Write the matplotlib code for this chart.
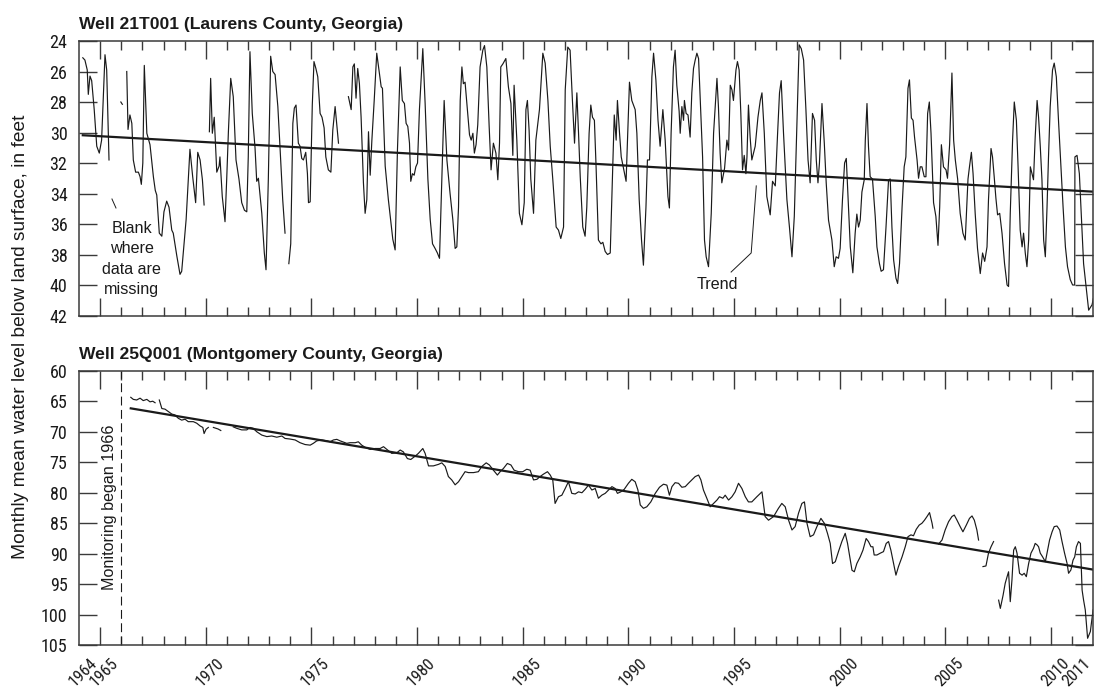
import numpy as np
import matplotlib
matplotlib.use("Agg")
import matplotlib.pyplot as plt
from matplotlib import font_manager

# Monthly mean water level below land surface (feet), one list per unbroken run of record.
laurens_segments = [
    [(1963.18, 25.1), (1963.28, 25.25), (1963.39, 25.9), (1963.44, 27.5), (1963.52, 26.3),
     (1963.60, 26.6), (1963.72, 28.5), (1963.84, 30.9), (1963.96, 31.35), (1964.07, 30.5),
     (1964.23, 24.9), (1964.31, 25.9), (1964.42, 31.8)],
    [(1964.98, 28.0), (1965.05, 28.15)],
    [(1965.26, 26.0), (1965.32, 29.8), (1965.41, 28.85), (1965.50, 29.4), (1965.57, 31.8),
     (1965.68, 32.6), (1965.81, 32.6), (1965.89, 32.9), (1965.95, 33.4), (1966.02, 32.0),
     (1966.09, 25.6), (1966.21, 30.05), (1966.36, 30.8), (1966.52, 32.9), (1966.61, 33.8),
     (1966.68, 34.1), (1966.80, 36.6), (1966.92, 36.8), (1967.02, 35.2), (1967.15, 34.5),
     (1967.26, 34.9), (1967.39, 36.4), (1967.46, 36.6), (1967.63, 38.1), (1967.78, 39.3),
     (1967.86, 39.1), (1968.07, 35.7), (1968.25, 31.1), (1968.38, 32.9), (1968.52, 34.6),
     (1968.62, 31.3), (1968.73, 31.8), (1968.84, 33.1), (1968.92, 34.75)],
    [(1969.17, 29.95), (1969.23, 26.45), (1969.31, 30.05), (1969.40, 29.0), (1969.52, 32.6),
     (1969.63, 32.2), (1969.67, 31.6), (1969.78, 34.2), (1969.91, 35.85), (1969.99, 33.05),
     (1970.07, 29.95), (1970.18, 26.45), (1970.30, 27.65), (1970.43, 31.8), (1970.57, 33.05),
     (1970.70, 34.6), (1970.83, 35.1), (1970.94, 35.2), (1971.01, 31.6), (1971.09, 24.7),
     (1971.20, 28.75), (1971.33, 31.0), (1971.41, 33.2), (1971.49, 33.0), (1971.65, 35.3),
     (1971.77, 37.9), (1971.85, 39.0), (1971.96, 33.05), (1972.07, 25.0), (1972.17, 26.0),
     (1972.28, 26.2), (1972.41, 28.3), (1972.51, 30.9), (1972.64, 34.4), (1972.75, 36.6)],
    [(1972.93, 38.6), (1973.02, 37.3), (1973.12, 29.4), (1973.19, 28.4), (1973.27, 28.2),
     (1973.38, 30.7), (1973.46, 30.9), (1973.54, 31.7), (1973.62, 31.8), (1973.73, 31.3),
     (1973.81, 32.7), (1973.86, 34.6), (1973.94, 34.55), (1974.04, 28.2), (1974.12, 25.35),
     (1974.21, 25.8), (1974.30, 26.35), (1974.41, 28.75), (1974.50, 29.0), (1974.60, 29.7),
     (1974.68, 31.6), (1974.80, 32.45), (1974.92, 32.6), (1975.01, 29.85), (1975.12, 28.3),
     (1975.28, 30.7)],
    [(1975.75, 27.65), (1975.88, 28.5), (1975.96, 25.7), (1976.03, 25.5), (1976.11, 27.75),
     (1976.19, 25.8), (1976.27, 26.8), (1976.35, 29.0), (1976.46, 33.3), (1976.54, 35.3),
     (1976.62, 34.4), (1976.70, 29.95), (1976.78, 32.8), (1976.86, 30.5), (1976.97, 27.9),
     (1977.09, 24.8), (1977.30, 27.0), (1977.36, 27.1), (1977.49, 32.2), (1977.64, 34.4),
     (1977.85, 37.0), (1977.96, 37.7), (1978.07, 31.15), (1978.20, 25.7), (1978.30, 27.9),
     (1978.40, 28.1), (1978.48, 29.4), (1978.56, 29.6), (1978.64, 30.7), (1978.70, 33.2),
     (1978.78, 32.7), (1978.86, 32.8), (1978.94, 32.25), (1979.02, 32.0), (1979.11, 28.5),
     (1979.27, 24.5), (1979.38, 28.1), (1979.51, 33.05), (1979.62, 35.7), (1979.73, 37.3),
     (1979.85, 37.6), (1979.96, 37.9), (1980.06, 38.25), (1980.17, 33.05), (1980.28, 27.9),
     (1980.41, 31.8), (1980.56, 34.0), (1980.69, 35.7), (1980.80, 37.6), (1980.88, 37.5),
     (1980.96, 34.9), (1981.04, 27.9), (1981.12, 25.7), (1981.19, 26.8), (1981.27, 26.7),
     (1981.38, 28.5), (1981.48, 30.15), (1981.56, 30.5), (1981.64, 30.05), (1981.71, 31.35),
     (1981.79, 30.8), (1981.87, 29.5), (1981.98, 25.7), (1982.11, 24.6), (1982.19, 24.3),
     (1982.30, 25.7), (1982.41, 29.6), (1982.50, 32.45), (1982.61, 30.7), (1982.73, 31.35),
     (1982.82, 33.1), (1982.90, 30.7), (1982.96, 25.7), (1983.06, 25.5), (1983.20, 25.15),
     (1983.32, 27.0), (1983.44, 28.1), (1983.53, 31.5), (1983.59, 26.9), (1983.72, 30.5),
     (1983.84, 35.3), (1983.96, 36.05), (1984.07, 34.6), (1984.15, 28.5), (1984.22, 27.9),
     (1984.30, 29.85), (1984.38, 33.05), (1984.51, 35.3), (1984.62, 30.5), (1984.79, 28.5),
     (1984.95, 24.8), (1985.06, 25.45), (1985.19, 27.9), (1985.30, 30.9), (1985.42, 33.05),
     (1985.58, 36.2), (1985.69, 36.4), (1985.80, 36.95), (1985.93, 36.2), (1986.01, 27.2),
     (1986.13, 24.4), (1986.24, 24.6), (1986.35, 27.9), (1986.45, 30.7), (1986.56, 27.4),
     (1986.64, 30.05), (1986.72, 32.9), (1986.84, 36.2), (1986.95, 36.8), (1987.03, 34.9),
     (1987.14, 30.05), (1987.22, 28.2), (1987.30, 29.0), (1987.39, 29.2), (1987.47, 32.25),
     (1987.58, 37.05), (1987.70, 37.3), (1987.79, 37.2), (1987.90, 37.8), (1988.01, 38.0),
     (1988.14, 37.9), (1988.25, 32.7), (1988.33, 28.85), (1988.42, 30.5), (1988.48, 27.9),
     (1988.58, 30.05), (1988.66, 31.6), (1988.82, 32.7), (1988.89, 33.2), (1988.98, 29.6),
     (1989.05, 26.7), (1989.16, 27.9), (1989.32, 28.5), (1989.40, 30.05), (1989.51, 34.4),
     (1989.62, 37.05), (1989.71, 38.7), (1989.83, 34.9), (1989.90, 31.8), (1990.00, 31.8),
     (1990.11, 26.35), (1990.19, 24.8), (1990.30, 26.55), (1990.40, 29.2), (1990.50, 30.9),
     (1990.63, 28.5), (1990.74, 30.5), (1990.87, 34.2), (1990.94, 34.95), (1991.02, 30.05),
     (1991.13, 25.7), (1991.21, 24.6), (1991.29, 26.9), (1991.40, 28.6), (1991.45, 30.05),
     (1991.53, 28.3), (1991.61, 29.2), (1991.65, 27.9), (1991.73, 28.75), (1991.82, 28.85),
     (1991.92, 30.3), (1992.00, 27.4), (1992.08, 25.8), (1992.16, 25.25), (1992.24, 24.8),
     (1992.32, 25.15), (1992.40, 27.9), (1992.51, 31.6), (1992.60, 37.05), (1992.68, 38.15),
     (1992.79, 38.8), (1992.92, 35.3), (1993.03, 30.05), (1993.19, 26.45), (1993.26, 28.3),
     (1993.34, 31.35), (1993.42, 33.3), (1993.55, 32.35), (1993.66, 30.5), (1993.74, 31.15),
     (1993.82, 26.9), (1993.90, 27.2), (1993.97, 27.9), (1994.09, 25.9), (1994.16, 25.35),
     (1994.24, 25.9), (1994.32, 28.75), (1994.40, 32.45), (1994.48, 31.5), (1994.56, 32.7),
     (1994.61, 31.6), (1994.68, 28.2), (1994.76, 30.3), (1994.84, 31.8), (1995.00, 30.9),
     (1995.13, 29.0), (1995.24, 27.9), (1995.32, 27.4), (1995.43, 30.05), (1995.55, 34.2),
     (1995.71, 35.4), (1995.82, 33.2), (1995.95, 33.5), (1996.06, 30.05), (1996.15, 27.4),
     (1996.23, 26.6), (1996.34, 30.05), (1996.50, 34.4), (1996.62, 36.2), (1996.74, 38.15),
     (1996.85, 35.5), (1996.97, 29.6), (1997.08, 24.25), (1997.18, 24.5), (1997.29, 25.25),
     (1997.40, 28.5), (1997.50, 31.8), (1997.60, 33.3), (1997.71, 28.75), (1997.81, 29.2),
     (1997.89, 31.8), (1997.97, 33.3), (1998.04, 32.0), (1998.16, 28.1), (1998.27, 30.7),
     (1998.36, 33.3), (1998.47, 35.75), (1998.55, 36.4), (1998.63, 37.05), (1998.74, 38.8),
     (1998.83, 38.15), (1998.94, 38.25), (1999.02, 37.6), (1999.13, 34.4), (1999.23, 32.0),
     (1999.31, 31.7), (1999.39, 34.2), (1999.50, 37.5), (1999.62, 39.2), (1999.73, 36.6),
     (1999.81, 35.35), (1999.89, 36.2), (1999.97, 35.75), (2000.05, 33.9), (2000.16, 33.1),
     (2000.21, 30.5), (2000.29, 28.1), (2000.36, 30.9), (2000.44, 32.9), (2000.55, 33.05),
     (2000.68, 35.5), (2000.76, 37.5), (2000.88, 38.6), (2000.96, 39.1), (2001.07, 39.0),
     (2001.19, 36.2), (2001.31, 33.1), (2001.39, 33.05), (2001.47, 36.2), (2001.55, 38.35),
     (2001.66, 39.55), (2001.74, 39.9), (2001.83, 38.6), (2001.95, 34.9), (2002.05, 32.25),
     (2002.13, 31.6), (2002.23, 27.1), (2002.30, 26.55), (2002.39, 29.05), (2002.47, 29.2),
     (2002.54, 30.3), (2002.66, 31.8), (2002.73, 33.0), (2002.81, 32.25), (2002.89, 32.25),
     (2003.00, 32.9), (2003.08, 32.9), (2003.16, 28.75), (2003.24, 28.0), (2003.32, 30.05),
     (2003.44, 34.6), (2003.55, 35.5), (2003.65, 37.4), (2003.73, 34.9), (2003.81, 30.8),
     (2003.91, 32.25), (2004.03, 32.45), (2004.10, 33.0), (2004.20, 30.8), (2004.31, 26.1),
     (2004.39, 30.5), (2004.47, 31.8), (2004.58, 33.05), (2004.70, 35.3), (2004.83, 36.6),
     (2004.94, 37.05), (2005.07, 33.05), (2005.14, 32.25), (2005.23, 31.3), (2005.31, 32.7),
     (2005.41, 35.3), (2005.52, 37.6), (2005.65, 39.25), (2005.76, 37.9), (2005.86, 38.45),
     (2005.97, 37.5), (2006.04, 34.4), (2006.16, 31.05), (2006.23, 31.6), (2006.31, 32.9),
     (2006.39, 34.3), (2006.47, 35.4), (2006.57, 35.3), (2006.68, 36.6), (2006.80, 38.6),
     (2006.92, 40.0), (2006.99, 40.1), (2007.07, 35.3), (2007.18, 30.5), (2007.26, 28.0),
     (2007.36, 29.2), (2007.44, 32.25), (2007.54, 36.4), (2007.63, 37.5), (2007.70, 36.6),
     (2007.78, 37.9), (2007.86, 38.8), (2007.94, 37.05), (2008.02, 32.25), (2008.10, 32.7),
     (2008.17, 33.1), (2008.25, 30.3), (2008.34, 27.9), (2008.41, 29.0), (2008.49, 30.9),
     (2008.57, 33.1), (2008.65, 37.05), (2008.73, 38.15), (2008.81, 34.9), (2008.88, 31.6),
     (2008.96, 28.3), (2009.07, 25.9), (2009.15, 25.45), (2009.25, 26.35), (2009.36, 29.4),
     (2009.47, 32.25), (2009.57, 34.9), (2009.68, 37.5), (2009.78, 38.8), (2009.91, 39.65),
     (2010.02, 40.0), (2010.12, 40.0), (2010.13, 31.6), (2010.23, 31.5), (2010.34, 32.7),
     (2010.42, 35.1), (2010.54, 38.6), (2010.66, 40.1), (2010.78, 41.65), (2010.94, 41.3),
     (2011.0, 40.9)],
]

montgomery_segments = [
    [(1965.45, 64.36), (1965.57, 64.7), (1965.73, 64.8), (1965.89, 64.5), (1966.04, 64.9),
     (1966.21, 64.7), (1966.36, 65.1), (1966.49, 65.0), (1966.60, 65.25)],
    [(1966.80, 64.8), (1966.92, 66.2), (1967.07, 66.3), (1967.23, 66.7), (1967.39, 67.1),
     (1967.54, 67.25), (1967.70, 67.8), (1967.86, 68.1), (1968.02, 67.95), (1968.17, 68.35),
     (1968.41, 68.35), (1968.57, 68.6), (1968.73, 69.05), (1968.86, 69.3), (1968.92, 70.3),
     (1969.01, 69.6), (1969.12, 69.3)],
    [(1969.36, 69.3), (1969.58, 69.55), (1969.71, 69.8)],
    [(1970.30, 69.2), (1970.47, 69.45), (1970.70, 69.7), (1970.94, 69.7), (1971.09, 69.3),
     (1971.25, 69.45), (1971.41, 70.0), (1971.65, 70.55), (1971.89, 70.8), (1972.12, 70.7),
     (1972.36, 70.9), (1972.60, 70.7), (1972.75, 71.1), (1972.99, 71.2), (1973.23, 71.35),
     (1973.46, 71.8), (1973.70, 72.1), (1973.94, 72.2), (1974.09, 71.9), (1974.25, 71.5),
     (1974.49, 71.35), (1974.73, 71.5), (1974.88, 71.65), (1975.04, 71.35), (1975.20, 71.25),
     (1975.36, 71.5), (1975.67, 71.9), (1975.83, 71.8), (1976.07, 71.8), (1976.22, 71.65),
     (1976.38, 72.2), (1976.54, 72.55), (1976.78, 72.9), (1977.01, 72.75), (1977.25, 72.75),
     (1977.41, 72.45), (1977.57, 72.9), (1977.80, 73.55), (1978.04, 73.45), (1978.20, 73.0),
     (1978.35, 73.3), (1978.54, 74.4), (1978.70, 74.55), (1978.91, 74.0), (1979.06, 73.55),
     (1979.27, 72.75), (1979.38, 73.55), (1979.54, 75.6), (1979.77, 75.6), (1980.01, 75.35),
     (1980.17, 75.1), (1980.33, 75.7), (1980.48, 77.35), (1980.64, 77.9), (1980.80, 78.7),
     (1980.96, 78.2), (1981.12, 77.35), (1981.27, 76.55), (1981.43, 76.7), (1981.67, 76.7),
     (1981.90, 76.55), (1982.06, 75.7), (1982.27, 75.1), (1982.42, 75.45), (1982.61, 76.3),
     (1982.80, 77.1), (1982.93, 76.55), (1983.09, 76.0), (1983.27, 75.2), (1983.44, 75.45),
     (1983.59, 76.3), (1983.80, 76.55), (1984.00, 76.55), (1984.19, 76.15), (1984.35, 76.3),
     (1984.51, 77.9), (1984.67, 77.8), (1984.82, 77.35), (1984.98, 76.95), (1985.17, 76.55),
     (1985.30, 77.1), (1985.42, 77.9), (1985.53, 81.75), (1985.69, 80.65), (1985.85, 80.4),
     (1986.01, 79.3), (1986.16, 78.2), (1986.32, 80.1), (1986.48, 80.2), (1986.64, 79.85),
     (1986.80, 80.0), (1986.95, 79.45), (1987.11, 78.75), (1987.27, 79.55), (1987.43, 79.3),
     (1987.58, 80.9), (1987.74, 80.4), (1987.90, 80.1), (1988.06, 79.55), (1988.22, 79.0),
     (1988.37, 79.3), (1988.48, 80.1), (1988.64, 79.85), (1988.80, 79.45), (1989.00, 78.45),
     (1989.16, 77.8), (1989.32, 78.2), (1989.45, 79.55), (1989.56, 82.0), (1989.71, 82.55),
     (1989.87, 82.3), (1990.06, 81.5), (1990.27, 80.1), (1990.47, 79.1), (1990.66, 78.6),
     (1990.82, 78.75), (1990.94, 80.4), (1991.06, 79.0), (1991.21, 78.35), (1991.37, 78.45),
     (1991.53, 79.1), (1991.69, 79.0), (1991.84, 78.45), (1992.00, 77.9), (1992.16, 77.35),
     (1992.32, 77.1), (1992.43, 77.9), (1992.55, 79.55), (1992.71, 80.9), (1992.87, 82.3),
     (1993.03, 81.75), (1993.19, 81.2), (1993.31, 80.65), (1993.47, 80.9), (1993.58, 80.4),
     (1993.74, 81.2), (1993.90, 80.65), (1994.05, 79.85), (1994.21, 78.45), (1994.37, 79.3),
     (1994.53, 80.65), (1994.68, 81.5), (1994.84, 81.5), (1995.08, 80.65), (1995.32, 79.85),
     (1995.47, 83.9), (1995.63, 84.5), (1995.87, 83.9), (1996.10, 82.55), (1996.26, 81.75),
     (1996.42, 82.3), (1996.58, 84.5), (1996.74, 86.1), (1996.89, 85.55), (1997.05, 83.35),
     (1997.21, 81.75), (1997.33, 81.5), (1997.45, 85.0), (1997.60, 87.2), (1997.76, 86.9),
     (1997.92, 85.55), (1998.11, 84.2), (1998.27, 85.0), (1998.42, 86.65), (1998.55, 88.3),
     (1998.66, 91.6), (1998.79, 91.3), (1998.94, 89.65), (1999.10, 88.0), (1999.26, 86.65),
     (1999.37, 88.3), (1999.50, 91.05), (1999.58, 92.7), (1999.69, 92.95), (1999.81, 91.6),
     (1999.97, 90.5), (2000.10, 89.4), (2000.25, 87.5), (2000.36, 88.0), (2000.48, 88.85),
     (2000.57, 88.85), (2000.63, 90.2), (2000.76, 90.2), (2000.92, 89.9), (2001.07, 89.65),
     (2001.20, 88.3), (2001.31, 88.0), (2001.42, 89.4), (2001.55, 91.6), (2001.66, 93.5),
     (2001.78, 92.1), (2001.95, 90.5), (2002.10, 88.85), (2002.23, 87.2), (2002.37, 86.9),
     (2002.49, 87.05), (2002.62, 86.0), (2002.76, 85.3), (2002.89, 85.0), (2003.01, 84.5),
     (2003.13, 83.9), (2003.25, 83.25), (2003.37, 85.0), (2003.41, 85.8)],
    [(2003.68, 88.4), (2003.84, 87.75), (2003.99, 86.1), (2004.15, 84.75), (2004.31, 83.9),
     (2004.42, 83.65), (2004.55, 84.5), (2004.70, 85.55), (2004.83, 86.4), (2004.99, 85.3),
     (2005.14, 84.2), (2005.26, 83.8), (2005.37, 84.5), (2005.49, 86.1), (2005.57, 87.75)],
    [(2005.78, 92.1), (2005.92, 92.0), (2006.04, 89.9), (2006.16, 88.85), (2006.28, 88.0)],
    [(2006.52, 97.6), (2006.60, 98.95), (2006.73, 96.8), (2006.83, 94.85), (2006.92, 93.75),
     (2006.99, 92.95), (2007.07, 97.85), (2007.15, 94.3), (2007.23, 89.4), (2007.31, 88.85),
     (2007.39, 89.9), (2007.51, 93.2), (2007.63, 93.5), (2007.73, 93.2), (2007.83, 93.75),
     (2007.94, 91.6), (2008.05, 89.9), (2008.17, 89.1), (2008.25, 88.3), (2008.34, 88.55),
     (2008.41, 88.85), (2008.49, 89.9), (2008.60, 90.5), (2008.73, 91.3), (2008.81, 89.9),
     (2008.93, 87.75), (2009.05, 86.4), (2009.15, 85.55), (2009.28, 85.45), (2009.41, 86.1),
     (2009.52, 88.0), (2009.64, 89.9), (2009.76, 91.6), (2009.83, 93.2), (2009.94, 92.65),
     (2010.04, 91.05), (2010.12, 90.5), (2010.20, 88.85), (2010.30, 88.0), (2010.39, 88.3),
     (2010.47, 95.95), (2010.54, 97.6), (2010.62, 99.2), (2010.73, 103.85), (2010.86, 102.75),
     (2010.99, 99.2)],
]

# Linear trend end points
laurens_trend_years = [1963.18, 2011.0]
laurens_trend_levels = [30.18, 33.88]
montgomery_trend_years = [1965.45, 2011.0]
montgomery_trend_levels = [66.17, 92.6]

year_labels = [1964, 1965, 1970, 1975, 1980, 1985, 1990, 1995, 2000, 2005, 2010, 2011]
long_tick_years = list(range(1964, 2010, 5))
minor_tick_years = list(range(1964, 2011))
monitoring_start = 1965.0


def narrow_font():
    """Return (family, stretch, found) of a condensed face if one is installed."""
    fonts = font_manager.fontManager.ttflist
    names = {f.name for f in fonts}
    for fam in ("Liberation Sans Narrow", "Roboto Condensed", "Noto Sans Condensed",
                "Open Sans Condensed", "DejaVu Sans Condensed"):
        if fam in names:
            return fam, "normal", True
    for f in fonts:
        if f.name == "DejaVu Sans" and str(f.stretch) in ("condensed", "semi-condensed"):
            return "DejaVu Sans", "condensed", True
    return "Liberation Sans", "normal", False


NARROW, NARROW_STRETCH, HAVE_NARROW = narrow_font()
YTICK_SIZE = 13 if HAVE_NARROW else 11.3
XTICK_SIZE = 12 if HAVE_NARROW else 10.8

TEXT = "Liberation Sans"
plt.rcParams["font.family"] = [TEXT, "DejaVu Sans"]

INK = "#1a1a1a"
FRAME = "#3a3a3a"

fig = plt.figure(figsize=(10.96, 6.88), dpi=100)
ax1 = fig.add_axes([0.07208, 0.54142, 0.92546, 0.39898])
ax2 = fig.add_axes([0.07208, 0.06206, 0.92546, 0.39913])


def style_axes(ax, yticks, ylim):
    ax.set_xlim(1963, 2011)
    ax.set_ylim(*ylim)
    ax.set_yticks(yticks)
    ax.set_xticks(long_tick_years)
    ax.set_xticks(minor_tick_years, minor=True)
    ax.set_xticklabels([])
    for s in ax.spines.values():
        s.set_color(FRAME)
        s.set_linewidth(1.1)
    ax.tick_params(axis="x", which="major", direction="in", length=13, width=1.0,
                   color=FRAME, top=True, bottom=True)
    ax.tick_params(axis="x", which="minor", direction="in", length=6.5, width=1.0,
                   color=FRAME, top=True, bottom=True)
    ax.tick_params(axis="y", direction="in", length=13, width=1.0, color=FRAME,
                   left=True, right=True, pad=8.3, labelsize=YTICK_SIZE, labelcolor=INK)
    for lab in ax.get_yticklabels():
        lab.set_family(NARROW)
        lab.set_stretch(NARROW_STRETCH)


style_axes(ax1, np.arange(24, 43, 2), (42, 24))
style_axes(ax2, np.arange(60, 106, 5), (105, 60))

for seg in laurens_segments:
    yr, lv = zip(*seg)
    ax1.plot(yr, lv, color=INK, lw=0.85)
ax1.plot(laurens_trend_years, laurens_trend_levels, color=INK, lw=1.6)

for seg in montgomery_segments:
    yr, lv = zip(*seg)
    ax2.plot(yr, lv, color=INK, lw=0.85)
ax2.plot(montgomery_trend_years, montgomery_trend_levels, color=INK, lw=1.6)

# Panel titles
ax1.set_title("Well 21T001 (Laurens County, Georgia)", loc="left", fontweight="bold",
              fontsize=12.6, pad=8.6, color=INK)
ax2.set_title("Well 25Q001 (Montgomery County, Georgia)", loc="left", fontweight="bold",
              fontsize=12.6, pad=8.6, color=INK)

# Callouts on the upper panel
ax1.text(1965.5, 38.3, "Blank\nwhere\ndata are\nmissing", ha="center", va="center",
         fontsize=11.6, linespacing=1.45, color=INK)
ax1.plot([1964.56, 1964.75], [34.36, 34.95], color=INK, lw=0.7)
ax1.text(1993.2, 39.95, "Trend", ha="center", va="center", fontsize=11.6, color=INK)
ax1.plot([1993.86, 1994.81, 1995.05], [39.15, 37.9, 33.5], color=INK, lw=0.7)

# Start of record on the lower panel
ax2.axvline(monitoring_start, color=INK, lw=0.8, dashes=(8, 4))
ax2.text(1964.45, 82.3, "Monitoring began 1966", rotation=90, ha="center", va="center",
         fontsize=11.6, color=INK)

# Year labels sit on their own axis so the long ticks can fall elsewhere
sec = ax2.secondary_xaxis("bottom")
sec.set_xticks(year_labels, [str(y) for y in year_labels])
sec.tick_params(length=0, pad=7.5, labelsize=XTICK_SIZE, labelcolor=INK)
sec.spines["bottom"].set_visible(False)
for lab in sec.get_xticklabels():
    lab.set_rotation(45)
    lab.set_ha("right")
    lab.set_va("top")
    lab.set_family(NARROW)
    lab.set_stretch(NARROW_STRETCH)

fig.text(20.5 / 1096, 1 - 337 / 688, "Monthly mean water level below land surface, in feet",
         rotation=90, ha="center", va="center", fontsize=13.8, color=INK)

fig.savefig("out.png", dpi=100)
